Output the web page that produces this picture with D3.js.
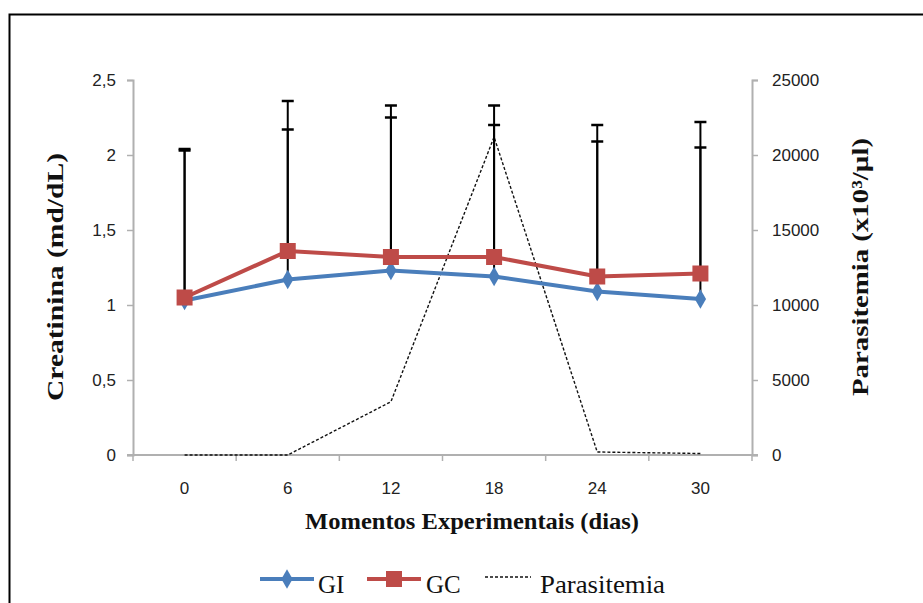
<!DOCTYPE html>
<html><head><meta charset="utf-8">
<script src="https://cdn.jsdelivr.net/npm/d3@7"></script>
<style>
html,body{margin:0;padding:0;background:#fff;}
svg{display:block;}
.tick text{font-family:"Liberation Sans","Arial",sans-serif;font-size:17px;fill:#222;}
</style></head>
<body>
<svg id="c" width="923" height="603"></svg>
<script>
const categories = ["0","6","12","18","24","30"];
const giValues = [1.03, 1.17, 1.23, 1.19, 1.09, 1.04];
const gcValues = [1.05, 1.36, 1.32, 1.32, 1.19, 1.21];
const giErrTop = [2.03, 2.17, 2.25, 2.20, 2.09, 2.05];
const gcErrTop = [2.04, 2.36, 2.33, 2.33, 2.20, 2.22];
const parasitemia = [0, 0, 3550, 21200, 200, 100];
const leftTicks = [0, 0.5, 1, 1.5, 2, 2.5];
const rightTicks = [0, 5000, 10000, 15000, 20000, 25000];

const svg = d3.select("#c");
// outer frame
svg.append("rect").attr("x",9.5).attr("y",14.5).attr("width",930).attr("height",620)
  .attr("fill","none").attr("stroke","#000").attr("stroke-width",2);

const L = 133, R = 752, T = 80, B = 455;
const x = d3.scaleBand().domain(categories).range([L, R]).padding(0);
const yL = d3.scaleLinear().domain([0, 2.5]).range([B, T]);
const yR = d3.scaleLinear().domain([0, 25000]).range([B, T]);
const cx = d => x(d) + x.bandwidth()/2;
const axisColor = "#b0b0b0";

function styleAxis(g){
  g.select(".domain").attr("stroke", axisColor).attr("stroke-width", 2);
  g.selectAll(".tick line").attr("stroke", axisColor).attr("stroke-width", 1.5);
}

// left axis
const gl = svg.append("g").attr("transform",`translate(${L},0)`)
  .call(d3.axisLeft(yL).tickValues(leftTicks).tickSize(6).tickSizeOuter(6).tickPadding(11)
    .tickFormat(d => String(d).replace(".", ",")));
styleAxis(gl);

// right axis
const gr = svg.append("g").attr("transform",`translate(${R},0)`)
  .call(d3.axisRight(yR).tickValues(rightTicks).tickSize(6).tickSizeOuter(6).tickPadding(14)
    .tickFormat(d => String(d)));
styleAxis(gr);

// x axis with ticks at band boundaries
const gx = svg.append("g").attr("transform",`translate(0,${B})`)
  .call(d3.axisBottom(x).tickSize(0).tickPadding(27));
gx.select(".domain").attr("stroke", axisColor).attr("stroke-width", 2)
  .attr("d", `M${L-6},0H${R+6}`);
const bounds = d3.range(categories.length + 1).map(i => L + i * x.bandwidth());
gx.selectAll(".bt").data(bounds).enter().append("line")
  .attr("x1", d => d).attr("x2", d => d).attr("y1", 0).attr("y2", 6)
  .attr("stroke", axisColor).attr("stroke-width", 1.5);

// parasitemia dashed line
const lineP = d3.line().x((d,i) => cx(categories[i])).y(d => yR(d));
svg.append("path").datum(parasitemia).attr("d", lineP)
  .attr("fill","none").attr("stroke","#111").attr("stroke-width",1.4).attr("stroke-dasharray","3,2");

// error bars
function errBars(vals, tops){
  const g = svg.append("g");
  categories.forEach((c,i) => {
    g.append("line").attr("x1",cx(c)).attr("x2",cx(c)).attr("y1",yL(vals[i])).attr("y2",yL(tops[i]))
      .attr("stroke","#000").attr("stroke-width",2);
    g.append("line").attr("x1",cx(c)-6).attr("x2",cx(c)+6).attr("y1",yL(tops[i])).attr("y2",yL(tops[i]))
      .attr("stroke","#000").attr("stroke-width",2.5);
  });
}
errBars(giValues, giErrTop);
errBars(gcValues, gcErrTop);

const blue = "#4a7ebb", red = "#be4b48";
const lineL = d3.line().x((d,i) => cx(categories[i])).y(d => yL(d));
svg.append("path").datum(giValues).attr("d", lineL).attr("fill","none").attr("stroke",blue).attr("stroke-width",4);
svg.append("path").datum(gcValues).attr("d", lineL).attr("fill","none").attr("stroke",red).attr("stroke-width",4);
svg.selectAll(".gim").data(giValues).enter().append("path")
  .attr("transform",(d,i)=>`translate(${cx(categories[i])},${yL(d)})`)
  .attr("d", d3.symbol(d3.symbolDiamond, 110)).attr("fill",blue);
svg.selectAll(".gcm").data(gcValues).enter().append("rect")
  .attr("x",(d,i)=>cx(categories[i])-8).attr("y",d=>yL(d)-8).attr("width",16).attr("height",16).attr("fill",red);

// axis titles
const serif = '"Liberation Serif","Times New Roman",serif';
svg.append("text").attr("transform","translate(63,277) rotate(-90)").attr("text-anchor","middle")
  .attr("font-family",serif).attr("font-weight","bold").attr("font-size",24).attr("fill","#111")
  .attr("textLength",248).attr("lengthAdjust","spacingAndGlyphs")
  .text("Creatinina (md/dL)");
svg.append("text").attr("transform","translate(868,267) rotate(-90)").attr("text-anchor","middle")
  .attr("font-family",serif).attr("font-weight","bold").attr("font-size",23).attr("fill","#111")
  .attr("textLength",258).attr("lengthAdjust","spacingAndGlyphs")
  .text("Parasitemia (x10³/µl)");
svg.append("text").attr("x",472).attr("y",529).attr("text-anchor","middle")
  .attr("font-family",serif).attr("font-weight","bold").attr("font-size",24).attr("fill","#111")
  .attr("textLength",334).attr("lengthAdjust","spacingAndGlyphs")
  .text("Momentos Experimentais (dias)");

// legend
const ly = 579;
const lg = svg.append("g");
lg.append("line").attr("x1",260).attr("x2",314).attr("y1",ly).attr("y2",ly).attr("stroke",blue).attr("stroke-width",4);
lg.append("path").attr("transform",`translate(287,${ly})`).attr("d", d3.symbol(d3.symbolDiamond,110)).attr("fill",blue);
lg.append("text").attr("x",318).attr("y",ly+14).attr("font-family",serif).attr("font-size",25).attr("fill","#111").text("GI");
lg.append("line").attr("x1",367).attr("x2",421).attr("y1",ly).attr("y2",ly).attr("stroke",red).attr("stroke-width",4);
lg.append("rect").attr("x",386).attr("y",ly-8).attr("width",16).attr("height",16).attr("fill",red);
lg.append("text").attr("x",426).attr("y",ly+14).attr("font-family",serif).attr("font-size",25).attr("fill","#111").text("GC");
lg.append("line").attr("x1",485).attr("x2",531).attr("y1",ly-2).attr("y2",ly-2).attr("stroke","#111").attr("stroke-width",1.4).attr("stroke-dasharray","3,2");
lg.append("text").attr("x",540).attr("y",ly+14).attr("font-family",serif).attr("font-size",25).attr("fill","#111")
  .attr("textLength",125).attr("lengthAdjust","spacingAndGlyphs").text("Parasitemia");
</script>
</body></html>
